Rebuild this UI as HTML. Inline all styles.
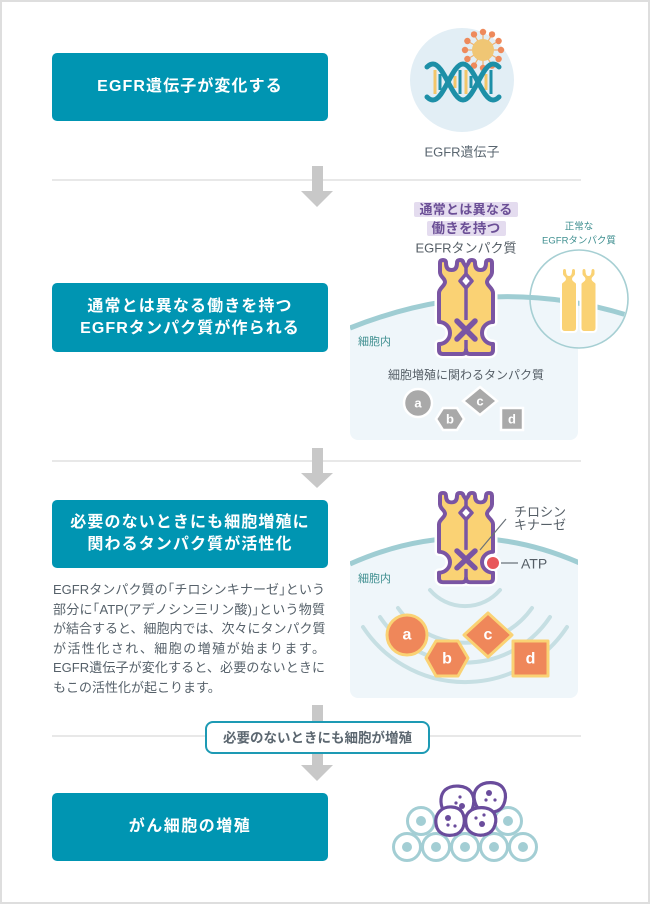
<!DOCTYPE html>
<html><head><meta charset="utf-8">
<style>
html,body{margin:0;padding:0;background:#fff;}
body{width:650px;height:904px;position:relative;overflow:hidden;font-family:"Liberation Sans","Noto Sans CJK JP",sans-serif;}
.frame{position:absolute;left:0;top:0;width:646px;height:900px;border:2px solid #dedede;}
.box{position:absolute;left:52px;width:276px;height:68px;background:#0095b2;border-radius:5px;color:#fff;font-weight:bold;font-size:16px;letter-spacing:1.1px;line-height:22px;display:flex;align-items:center;justify-content:center;text-align:center;}
.para{position:absolute;left:53px;top:580px;width:272px;font-size:13px;line-height:19.6px;color:#56616a;}
.para div{text-align:justify;text-align-last:justify;white-space:nowrap;}
.para div.l{text-align-last:left;}
.ob{margin-left:-6.5px;}
.cb{letter-spacing:-6.5px;}
svg{position:absolute;left:0;top:0;}
</style></head><body>
<div class="frame"></div>
<svg width="650" height="904" viewBox="0 0 650 904" xmlns="http://www.w3.org/2000/svg" font-family="Liberation Sans, Noto Sans CJK JP, sans-serif">
<defs>
  <path id="recOut" d="M3,14 L3,5 Q3,2 6,2 Q9,2 9,5 Q9,12 14.5,12 Q20,12 20,5 Q20,2 23,2 Q26,2 26.5,5 L29,9 L31.5,5 Q32,2 35,2 Q38,2 38,5 Q38,12 43.5,12 Q49,12 49,5 Q49,2 52,2 Q55,2 55,5 L55,14 C55,19 50,20 50,24 C50,28 56,30 56,35 L56,64 A11,11 0 0 0 56,86 L56,92 Q56,96 52,96 L33,96 Q29,96 29,92 Q29,96 25,96 L6,96 Q2,96 2,92 L2,86 A11,11 0 0 0 2,64 L2,35 C2,30 8,28 8,24 C8,20 3,19 3,14 Z"/>
  <g id="recep">
    <use href="#recOut" fill="none" stroke="#fff" stroke-width="9" stroke-linejoin="round"/>
    <use href="#recOut" fill="#fad274" stroke="#7a55a3" stroke-width="4" stroke-linejoin="round"/>
    <path d="M29,9 L29,16 M29,30 L29,62 M29,82 L29,93" stroke="#7a55a3" stroke-width="3.5" fill="none"/>
    <path d="M29,16 L23,23 L29,30 L35,23 Z" fill="#fff" stroke="#7a55a3" stroke-width="3.5" stroke-linejoin="round"/>
    <path d="M20,63 L38,81 M38,63 L20,81" stroke="#7a55a3" stroke-width="5.5" stroke-linecap="round"/>
  </g>
  <path id="col" d="M1,3 Q1,0 3.5,0 Q6,0 6,3 Q6,7 8,7 Q10,7 10,3 Q10,0 12.5,0 Q15,0 15,3 L15,6 C15,9 12,9 12,11 C12,13 16,14 16,16 L16,60 Q16,64 12,64 L4,64 Q0,64 0,60 L0,16 C0,14 4,13 4,11 C4,9 1,9 1,6 Z"/>
  <clipPath id="p2clip"><rect x="350" y="240" width="228" height="200" rx="8"/></clipPath>
  <clipPath id="incirc"><circle cx="579" cy="299" r="49"/></clipPath>
  <clipPath id="p3clip"><rect x="350" y="490" width="228" height="208" rx="8"/></clipPath>
  <clipPath id="p2c2"><rect x="350" y="240" width="228" height="200"/><circle cx="579" cy="299" r="48"/></clipPath>
</defs>

<!-- separators -->
<rect x="52" y="179" width="529" height="2" fill="#e8e8e8"/>
<rect x="52" y="460" width="529" height="2" fill="#e8e8e8"/>
<rect x="52" y="735" width="529" height="2" fill="#e8e8e8"/>

<!-- arrows -->
<g fill="#c8c8c8">
  <rect x="312" y="166" width="11" height="26"/><polygon points="301,191 333,191 317,207"/>
  <rect x="312" y="448" width="11" height="26"/><polygon points="301,473 333,473 317,488"/>
  <rect x="312" y="705" width="11" height="61"/><polygon points="301,765 333,765 317,781"/>
</g>

<!-- pill -->
<rect x="206" y="722" width="223" height="31" rx="7" fill="#fff" stroke="#1d9ab4" stroke-width="2"/>
<text x="317.5" y="738" text-anchor="middle" dominant-baseline="central" font-size="13.5" font-weight="bold" fill="#5c6770">必要のないときにも細胞が増殖</text>

<!-- ===== Panel 1: DNA ===== -->
<circle cx="462" cy="80" r="52" fill="#e2eef5"/>
<g stroke="#f0b070" stroke-width="1.2">
  <line x1="483" y1="50" x2="483" y2="32"/><line x1="483" y1="50" x2="474" y2="34.4"/><line x1="483" y1="50" x2="492" y2="34.4"/>
  <line x1="483" y1="50" x2="467.4" y2="41"/><line x1="483" y1="50" x2="498.6" y2="41"/><line x1="483" y1="50" x2="465" y2="50"/>
  <line x1="483" y1="50" x2="501" y2="50"/><line x1="483" y1="50" x2="467.4" y2="59"/><line x1="483" y1="50" x2="498.6" y2="59"/>
  <line x1="483" y1="50" x2="474" y2="65.6"/><line x1="483" y1="50" x2="492" y2="65.6"/><line x1="483" y1="50" x2="483" y2="68"/>
</g>
<g fill="#ee8a5c">
  <circle cx="483" cy="32" r="3.2"/><circle cx="474" cy="34.4" r="3.2"/><circle cx="492" cy="34.4" r="3.2"/>
  <circle cx="467.4" cy="41" r="3.2"/><circle cx="498.6" cy="41" r="3.2"/><circle cx="465" cy="50" r="3.2"/>
  <circle cx="501" cy="50" r="3.2"/><circle cx="467.4" cy="59" r="3.2"/><circle cx="498.6" cy="59" r="3.2"/>
  <circle cx="474" cy="65.6" r="3.2"/><circle cx="492" cy="65.6" r="3.2"/><circle cx="483" cy="68" r="3.2"/>
</g>
<circle cx="483" cy="50" r="11" fill="#f0c674"/>
<!-- rungs -->
<g stroke-width="3">
  <line x1="435" y1="70" x2="435" y2="94" stroke="#f3c66a"/>
  <line x1="440" y1="74" x2="440" y2="90" stroke="#1d8fa7"/>
  <line x1="455" y1="76" x2="455" y2="88" stroke="#f3c66a"/>
  <line x1="460" y1="70" x2="460" y2="94" stroke="#1d8fa7"/>
  <line x1="466" y1="70" x2="466" y2="94" stroke="#f3c66a"/>
  <line x1="471" y1="76" x2="471" y2="88" stroke="#1d8fa7"/>
  <line x1="486" y1="74" x2="486" y2="90" stroke="#f3c66a"/>
  <line x1="491" y1="70" x2="491" y2="94" stroke="#1d8fa7"/>
</g>
<g fill="none" stroke="#1d8fa7" stroke-width="5" stroke-linecap="round">
  <path d="M427,67 Q430,64 433,64 C444,64 452,100 463,100 C474,100 482,64 493,64 Q496,64 499,67"/>
  <path d="M427,97 Q430,100 433,100 C444,100 452,64 463,64 C474,64 482,100 493,100 Q496,100 499,97"/>
</g>
<text x="462" y="152" text-anchor="middle" dominant-baseline="central" font-size="13" fill="#5a6670">EGFR遺伝子</text>

<!-- ===== Panel 2 ===== -->
<path d="M350,328 Q490,272 630,316 L630,440 L350,440 Z" fill="#eff6fa" clip-path="url(#p2clip)"/>
<circle cx="579" cy="299" r="49" fill="#fff"/>
<path d="M350,328 Q490,272 630,316 L630,360 L350,360 Z" fill="#eff6fa" clip-path="url(#incirc)"/>
<circle cx="579" cy="299" r="49" fill="none" stroke="#a6cfd3" stroke-width="1.6"/>
<path d="M350,328 Q490,272 630,316" fill="none" stroke="#9fcdd3" stroke-width="5" clip-path="url(#p2c2)"/>
<g transform="translate(561,268)"><use href="#col" fill="#fad274" stroke="#fff" stroke-width="2"/></g>
<g transform="translate(580.5,268)"><use href="#col" fill="#fad274" stroke="#fff" stroke-width="2"/></g>
<text x="579" y="227" text-anchor="middle" dominant-baseline="central" font-size="9.5" fill="#3f8f90">正常な</text>
<text x="579" y="241" text-anchor="middle" dominant-baseline="central" font-size="9.5" fill="#3f8f90">EGFRタンパク質</text>

<g transform="translate(437,258)"><use href="#recep"/></g>

<rect x="414" y="202" width="104" height="15" rx="2" fill="#e4dcef"/>
<rect x="427" y="221" width="79" height="15" rx="2" fill="#e4dcef"/>
<text x="466" y="209.5" text-anchor="middle" dominant-baseline="central" font-size="13" font-weight="bold" fill="#6b4f96" letter-spacing="0.3">通常とは異なる</text>
<text x="466" y="228.5" text-anchor="middle" dominant-baseline="central" font-size="13.5" font-weight="bold" fill="#6b4f96" letter-spacing="0.3">働きを持つ</text>
<text x="466" y="248" text-anchor="middle" dominant-baseline="central" font-size="13" fill="#555e66">EGFRタンパク質</text>
<text x="358" y="342" dominant-baseline="central" font-size="11" fill="#3f8f90">細胞内</text>
<text x="466" y="375" text-anchor="middle" dominant-baseline="central" font-size="12" fill="#555e66">細胞増殖に関わるタンパク質</text>
<g fill="#a9a9a9" stroke="#fff" stroke-width="2.5">
  <circle cx="418" cy="403" r="14"/>
  <polygon points="436,419 443,408 457,408 464,419 457,430 443,430"/>
  <polygon points="480,387 497,401 480,415 463,401"/>
  <rect x="501" y="408" width="22" height="22"/>
</g>
<g fill="#fff" font-size="13" font-weight="bold" text-anchor="middle" dominant-baseline="central">
  <text x="418" y="403">a</text><text x="450" y="419">b</text><text x="480" y="401">c</text><text x="512" y="419">d</text>
</g>

<!-- ===== Panel 3 ===== -->
<path d="M350,564 Q466,512 582,564 L582,698 L350,698 Z" fill="#eff6fa" clip-path="url(#p3clip)"/>
<path d="M350,564 Q466,512 582,564" fill="none" stroke="#9fcdd3" stroke-width="5" clip-path="url(#p3clip)"/>
<g fill="none" stroke="#c6dfe3" stroke-width="4" stroke-linecap="round">
  <path d="M430,590 A46,46 0 0 0 500,590"/>
  <path d="M398,608 A82,82 0 0 0 532,608"/>
  <path d="M380,617 A102,102 0 0 0 550,617"/>
  <path d="M363,627 A122,122 0 0 0 567,627"/>
</g>
<g transform="translate(437,491) scale(1,0.95)"><use href="#recep"/></g>
<circle cx="493" cy="563" r="7" fill="#e8575a" stroke="#fff" stroke-width="2"/>
<line x1="501" y1="563" x2="518" y2="563" stroke="#6b737a" stroke-width="1.2"/>
<line x1="506" y1="519" x2="480" y2="550" stroke="#6b737a" stroke-width="1.2"/>
<text x="514" y="512" dominant-baseline="central" font-size="13" fill="#555e66">チロシン</text>
<text x="514" y="525" dominant-baseline="central" font-size="13" fill="#555e66">キナーゼ</text>
<text x="521" y="563.5" dominant-baseline="central" font-size="14" fill="#555e66">ATP</text>
<text x="358" y="579" dominant-baseline="central" font-size="11" fill="#3f8f90">細胞内</text>
<g fill="#ef875a" stroke="#fad274" stroke-width="3" stroke-linejoin="round">
  <circle cx="407" cy="635" r="20"/>
  <polygon points="426,658 436,641 458,641 468,658 458,676 436,676"/>
  <polygon points="488,613 512,635 488,657 464,635"/>
  <rect x="513" y="641" width="35" height="35"/>
</g>
<g fill="#fff" font-size="16" font-weight="bold" text-anchor="middle" dominant-baseline="central">
  <text x="407" y="635">a</text><text x="447" y="659">b</text><text x="488" y="635">c</text><text x="530.5" y="659">d</text>
</g>

<!-- ===== Panel 4: cells ===== -->
<g fill="#fff" stroke="#a3ced4" stroke-width="3">
  <circle cx="421" cy="821" r="13.5"/><circle cx="450" cy="821" r="13.5"/><circle cx="479" cy="821" r="13.5"/><circle cx="508" cy="821" r="13.5"/>
  <circle cx="407" cy="847" r="13.5"/><circle cx="436" cy="847" r="13.5"/><circle cx="465" cy="847" r="13.5"/><circle cx="494" cy="847" r="13.5"/><circle cx="523" cy="847" r="13.5"/>
</g>
<g fill="#a3ced4">
  <circle cx="421" cy="821" r="5"/><circle cx="508" cy="821" r="5"/>
  <circle cx="407" cy="847" r="5"/><circle cx="436" cy="847" r="5"/><circle cx="465" cy="847" r="5"/><circle cx="494" cy="847" r="5"/><circle cx="523" cy="847" r="5"/>
</g>
<g fill="#fff" stroke="#6a4c9c" stroke-width="3.2" stroke-linejoin="round">
  <path d="M445,790 C452,784 466,785 471,792 C476,799 474,812 466,816 C458,820 446,818 443,810 C440,803 440,795 445,790 Z"/>
  <path d="M478,787 C484,781 498,781 503,788 C508,795 505,808 497,811 C489,814 479,812 476,805 C473,798 473,792 478,787 Z"/>
  <path d="M440,811 C446,805 458,806 462,812 C466,819 465,830 457,834 C449,837 440,835 437,828 C435,822 435,816 440,811 Z"/>
  <path d="M469,812 C475,806 489,806 494,813 C498,820 495,831 487,834 C479,837 470,834 467,828 C465,822 465,816 469,812 Z"/>
</g>
<g fill="#6a4c9c">
  <circle cx="460" cy="797" r="1.6"/><circle cx="456" cy="803" r="1.6"/><circle cx="462" cy="806" r="3"/>
  <circle cx="489" cy="793" r="3"/><circle cx="486" cy="800" r="1.6"/><circle cx="495" cy="800" r="1.6"/>
  <circle cx="448" cy="818" r="3"/><circle cx="448" cy="825" r="1.6"/><circle cx="455" cy="826" r="1.6"/>
  <circle cx="476" cy="818" r="1.6"/><circle cx="482" cy="824" r="3"/><circle cx="484" cy="815" r="1.6"/>
</g>
</svg>

<div class="box" style="top:53px;">EGFR遺伝子が変化する</div>
<div class="box" style="top:283px;height:69px;">通常とは異なる働きを持つ<br>EGFRタンパク質が作られる</div>
<div class="box" style="top:500px;">必要のないときにも細胞増殖に<br>関わるタンパク質が活性化</div>
<div class="box" style="top:793px;letter-spacing:1.5px;">がん細胞の増殖</div>

<div class="para">
  <div>EGFRタンパク質の<span class="ob">「</span>チロシンキナーゼ<span class="cb">」</span>という</div>
  <div>部分に<span class="ob">「</span>ATP(アデノシン三リン酸)<span class="cb">」</span>という物質</div>
  <div>が結合すると、細胞内では、次々にタンパク質</div>
  <div>が活性化され、細胞の増殖が始まります。</div>
  <div>EGFR遺伝子が変化すると、必要のないときに</div>
  <div class="l">もこの活性化が起こります。</div>
</div>
</body></html>
